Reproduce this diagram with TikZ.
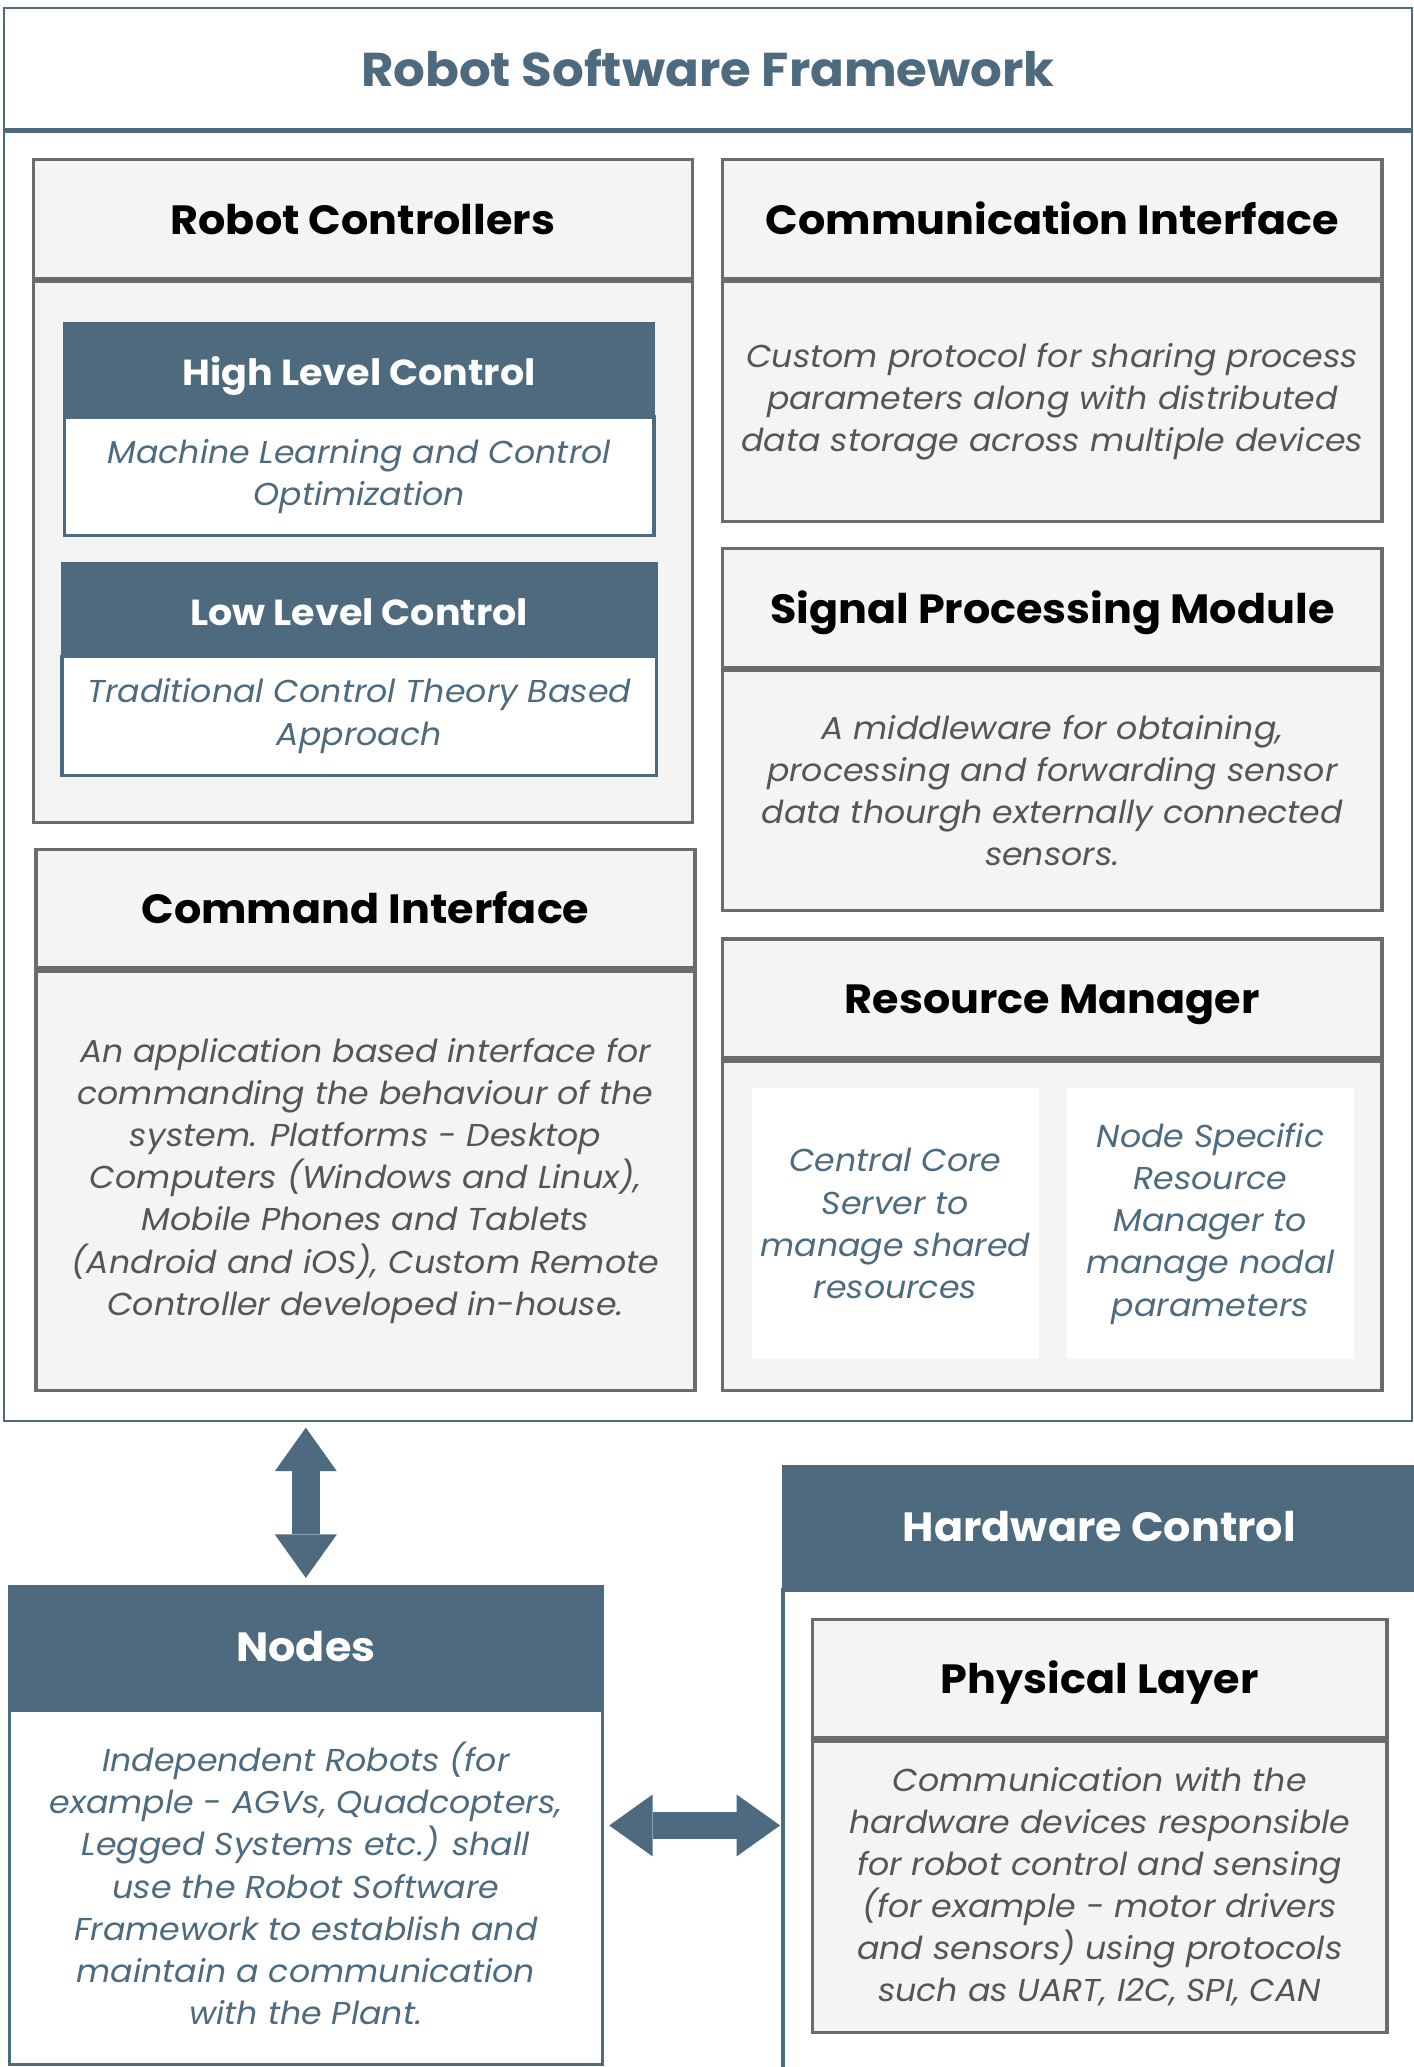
\documentclass[tikz,border=0pt]{standalone}
\usepackage{fontspec}
\setmainfont{Poppins}[FakeStretch=1.05]
\usetikzlibrary{positioning, arrows.meta, calc}

\definecolor{slate}{HTML}{4D6A7E}
\definecolor{cardgray}{HTML}{F4F4F4}
\definecolor{edgegray}{HTML}{6B6B6B}
\definecolor{txtgray}{HTML}{555555}

\tikzset{
	cardhead/.style={draw=edgegray, fill=cardgray, line width=2.5pt, inner sep=0,
		minimum height=90, text height=23pt, text depth=0pt, font=\fontsize{31}{36}\selectfont\bfseries},
	cardbody/.style={draw=edgegray, fill=cardgray, line width=2.5pt, inner sep=0,
		align=center, text=txtgray, font=\fontsize{24}{32}\selectfont\itshape},
	darkhead/.style={draw=slate, fill=slate, line width=2pt, inner sep=0, text=white,
		text height=23pt, text depth=0pt, font=\fontsize{31}{36}\selectfont\bfseries},
	smallhead/.style={darkhead, minimum height=69, text height=26pt, font=\fontsize{27.5}{32}\selectfont\bfseries},
	whitebody/.style={draw=slate, fill=white, line width=2.5pt, inner sep=0,
		align=center, text=slate, font=\fontsize{24}{32}\selectfont\itshape},
	bigarrow/.style={draw=slate, line width=21pt,
		{Triangle[width=47pt,length=33pt,line width=0pt 0 0]}-{Triangle[width=47pt,length=33pt,line width=0pt 0 0]}}
}

\begin{document}
\begin{tikzpicture}[x=1pt, y=-1pt]
	\useasboundingbox (0,0) rectangle (1072,1568);
	% framework
	\node[draw=slate, fill=white, line width=2pt, minimum width=1068, minimum height=92,
		anchor=north west, text=slate, font=\fontsize{36}{40}\selectfont\bfseries] (fwhead) at (2,5) {Robot Software Framework};
	\node[draw=slate, line width=2pt, minimum width=1068, minimum height=978, below=0pt of fwhead] (fwbody) {};
	
	% robot controllers
	\node[cardhead, minimum width=500, anchor=north west] (rchead) at (24,120) {Robot Controllers};
	\node[cardbody, minimum width=500, minimum height=410, below=0pt of rchead] (rcbody) {};
	\node[smallhead, minimum width=447, anchor=north west] (highhead) at (48,244) {High Level Control};
	\node[whitebody, minimum width=447, minimum height=90, below=0pt of highhead] (highbody) {Machine Learning and Control\\Optimization};
	\node[smallhead, minimum width=451, anchor=north west] (lowhead) at (46,426) {Low Level Control};
	\node[whitebody, minimum width=451, minimum height=90, below=0pt of lowhead] (lowbody) {Traditional Control Theory Based\\Approach};
	
	% command interface
	\node[cardhead, minimum width=500, anchor=north west] (cmdhead) at (26,643) {Command Interface};
	\node[cardbody, minimum width=500, minimum height=318, below=0pt of cmdhead] (cmdbody) {An application based interface for\\commanding the behaviour of the\\system. Platforms - Desktop\\Computers (Windows and Linux),\\Mobile Phones and Tablets\\(Android and iOS), Custom Remote\\Controller developed in-house.};
	
	% right column
	\node[cardhead, minimum width=500, anchor=north west] (comhead) at (547,120) {Communication Interface};
	\node[cardbody, minimum width=500, minimum height=182, below=0pt of comhead] (combody) {Custom protocol for sharing process\\parameters along with distributed\\data storage across multiple devices};
	\node[cardhead, minimum width=500, anchor=north west] (sighead) at (547,415) {Signal Processing Module};
	\node[cardbody, minimum width=500, minimum height=182, below=0pt of sighead] (sigbody) {A middleware for obtaining,\\processing and forwarding sensor\\data thourgh externally connected\\sensors.};
	\node[cardhead, minimum width=500, anchor=north west] (reshead) at (547,711) {Resource Manager};
	\node[cardbody, minimum width=500, minimum height=250, below=0pt of reshead] (resbody) {};
	\node[whitebody, draw=none, minimum width=218, minimum height=206, anchor=north west] (central) at (569,824) {Central Core\\Server to\\manage shared\\resources};
	\node[whitebody, draw=none, minimum width=218, minimum height=206, right=18.5pt of central] (nodal) {Node Specific\\Resource\\Manager to\\manage nodal\\parameters};
	
	% nodes
	\node[darkhead, minimum width=450, minimum height=92, anchor=north west] (nodeshead) at (6,1202) {Nodes};
	\node[whitebody, minimum width=450, minimum height=269, below=0pt of nodeshead] (nodesbody) {Independent Robots (for\\example - AGVs, Quadcopters,\\Legged Systems etc.) shall\\use the Robot Software\\Framework to establish and\\maintain a communication\\with the Plant.\vphantom{y}};
	
	% hardware control
	\node[darkhead, minimum width=490, minimum height=92, anchor=north west] (hwhead) at (593,1111) {\hspace*{-10pt}Hardware Control};
	\node[draw=slate, fill=white, line width=2.5pt, minimum width=490, minimum height=363, below=0pt of hwhead] (hwbody) {};
	\node[cardhead, minimum width=436, anchor=north west] (phyhead) at (615,1227) {Physical Layer};
	\node[cardbody, minimum width=436, minimum height=221, below=0pt of phyhead] (phybody) {Communication with the\\hardware devices responsible\\for robot control and sensing\\(for example - motor drivers\\and sensors) using protocols\\such as UART, I2C, SPI, CAN};
	
	% links
	\draw[bigarrow, shorten <=4pt, shorten >=5pt] (nodeshead.north |- fwbody.south) -- (nodeshead.north);
	\coordinate (nodesmid) at ($(nodeshead.north east)!0.5!(nodesbody.south east)$);
	\draw[bigarrow, shorten <=4pt, shorten >=1pt] (nodesmid) -- (hwbody.west |- nodesmid);
\end{tikzpicture}
\end{document}
